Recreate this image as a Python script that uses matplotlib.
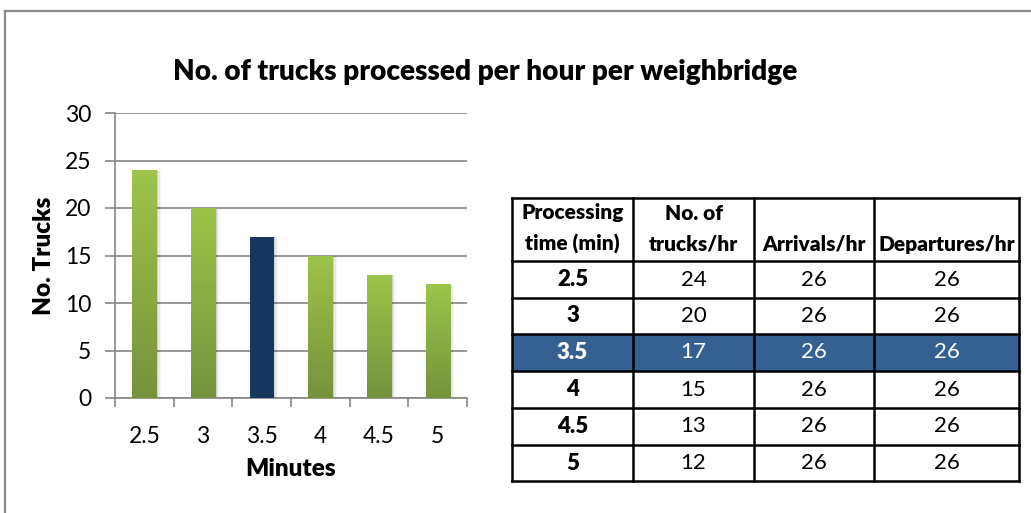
import numpy as np
import matplotlib
matplotlib.use("Agg")
import matplotlib.pyplot as plt
from matplotlib.lines import Line2D
from matplotlib.patches import Rectangle
from matplotlib.colors import LinearSegmentedColormap

plt.rcParams['font.family'] = ['Lato', 'DejaVu Sans']

# processing time per truck and resulting throughput
minutes = ['2.5', '3', '3.5', '4', '4.5', '5']
trucks_per_hr = [24, 20, 17, 15, 13, 12]
arrivals_per_hr = [26, 26, 26, 26, 26, 26]
departures_per_hr = [26, 26, 26, 26, 26, 26]
highlight = '3.5'

headers = ['Processing\ntime (min)', 'No. of\ntrucks/hr', 'Arrivals/hr', 'Departures/hr']

W, H = 1031, 513
fig = plt.figure(figsize=(W / 100, H / 100), dpi=100)

# outer frame
fig.add_artist(Line2D([5 / W, 1], [1 - 11 / H, 1 - 11 / H], color='#8a8a8a', lw=1.6))
fig.add_artist(Line2D([5 / W, 5 / W], [0, 1 - 11 / H], color='#8a8a8a', lw=1.6))

fig.text(485 / W, 1 - 72 / H, 'No. of trucks processed per hour per weighbridge',
         ha='center', va='center', fontsize=20.2, fontweight='heavy')

# bar chart
ax = fig.add_axes([115 / W, 1 - 398 / H, (467 - 115) / W, (398 - 113) / H])
x = np.arange(len(minutes))
green = LinearSegmentedColormap.from_list('g', ['#76923c', '#9dc54a'])
grad = np.linspace(0, 1, 256).reshape(-1, 1)
width = 0.41
for i, (lab, v) in enumerate(zip(minutes, trucks_per_hr)):
    # soft shadow
    for k, a in enumerate([0.10, 0.06, 0.03]):
        ax.add_patch(Rectangle((i - width / 2 + 0.03 + 0.025 * k, 0), width, v - 0.1,
                               facecolor='#000000', alpha=a, lw=0, zorder=2))
    if lab == highlight:
        ax.bar(i, v, width=width, color='#17375e', zorder=3)
    else:
        b = ax.bar(i, v, width=width, color='none', zorder=3)[0]
        im = ax.imshow(grad, cmap=green, origin='lower', aspect='auto',
                       extent=(i - width / 2, i + width / 2, 0, v), zorder=3)
        im.set_clip_path(b)
        ax.bar(i, v, width=width, color='#ffffff', zorder=2.5)

ax.set_xlim(-0.5, len(minutes) - 0.5)
ax.set_ylim(0, 30)
ax.set_yticks(range(0, 31, 5))
ax.set_xticks(x)
ax.set_xticklabels(minutes)
ax.set_xticks(np.arange(-0.5, len(minutes), 1), minor=True)
ax.tick_params(axis='x', which='major', length=0, pad=20, labelsize=16.5)
ax.tick_params(axis='x', which='minor', length=6.5, color='#868686', width=1.2)
ax.tick_params(axis='y', length=7, color='#868686', width=1.2, labelsize=16.5, pad=10)
ax.grid(axis='y', color='#868686', lw=1.2)
ax.set_axisbelow(True)
for s in ['top', 'right']:
    ax.spines[s].set_visible(False)
for s in ['left', 'bottom']:
    ax.spines[s].set_color('#868686')
    ax.spines[s].set_linewidth(1.2)
ax.set_ylabel('No. Trucks', fontsize=17.5, fontweight='heavy', labelpad=7)
ax.set_xlabel('Minutes', fontsize=17.5, fontweight='heavy', labelpad=8)

# data table, drawn in pixel coordinates
tx = fig.add_axes([0, 0, 1, 1])
tx.set_xlim(0, W)
tx.set_ylim(H, 0)
tx.axis('off')
cols = [512, 633, 754, 874, 1019]
rows = [198, 261, 298, 334, 371, 408, 445, 481]
hl = minutes.index(highlight)
tx.add_patch(Rectangle((cols[0], rows[hl + 1]), cols[-1] - cols[0], rows[hl + 2] - rows[hl + 1],
                       facecolor='#376092', lw=0))
for c in cols:
    tx.plot([c, c], [rows[0], rows[-1]], color='black', lw=1.8, solid_capstyle='projecting')
for r in rows:
    tx.plot([cols[0], cols[-1]], [r, r], color='black', lw=1.8, solid_capstyle='projecting')

fs = 15
for j, h in enumerate(headers):
    cx = (cols[j] + cols[j + 1]) / 2
    if '\n' in h:
        top, bot = h.split('\n')
        tx.text(cx, 213, top, ha='center', va='center', fontsize=fs, fontweight='heavy')
    else:
        bot = h
    tx.text(cx, 244, bot, ha='center', va='center', fontsize=fs, fontweight='heavy')

for i in range(len(minutes)):
    cy = (rows[i + 1] + rows[i + 2]) / 2
    fc = 'white' if i == hl else 'black'
    vals = [minutes[i], trucks_per_hr[i], arrivals_per_hr[i], departures_per_hr[i]]
    for j, v in enumerate(vals):
        cx = (cols[j] + cols[j + 1]) / 2
        tx.text(cx, cy, str(v), ha='center', va='center', fontsize=16, color=fc,
                fontweight='heavy' if j == 0 else 'normal')

fig.savefig('out.png', dpi=100)
